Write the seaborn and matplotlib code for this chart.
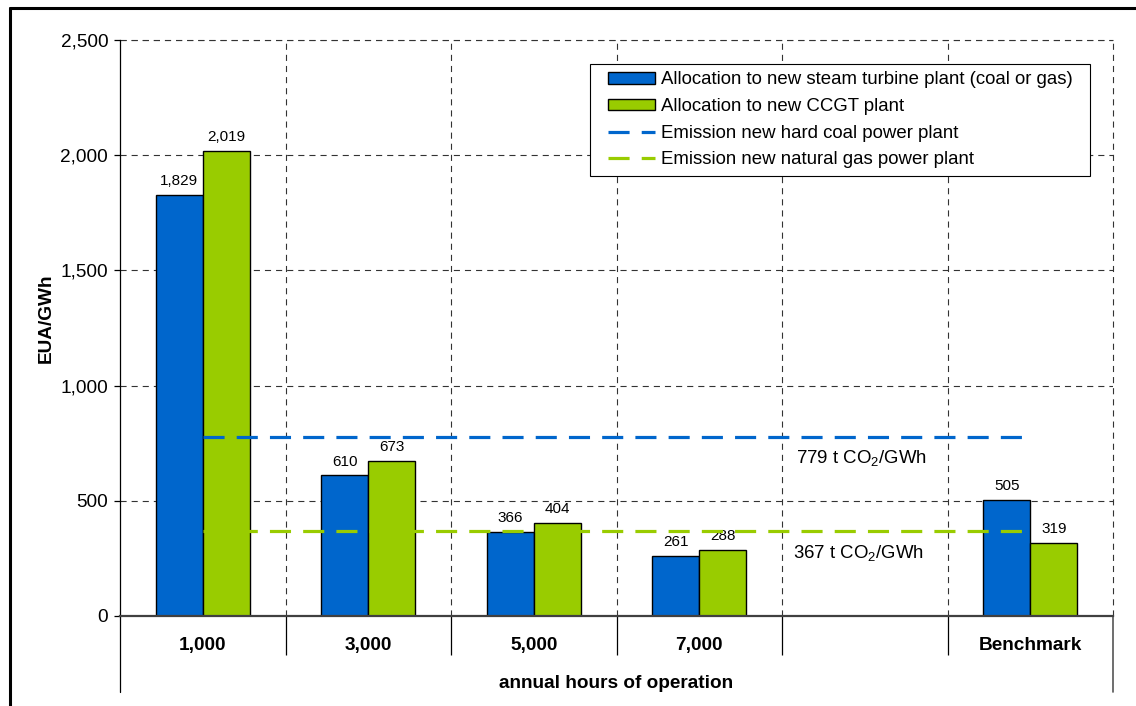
import matplotlib
matplotlib.use("Agg")
import matplotlib.pyplot as plt
import seaborn as sns
import pandas as pd
from matplotlib.patches import Patch
from matplotlib.lines import Line2D
from matplotlib.ticker import FuncFormatter, FixedLocator
from matplotlib.legend_handler import HandlerPatch, HandlerLine2D

categories = ["1,000", "3,000", "5,000", "7,000", " ", "Benchmark"]
bar_categories = ["1,000", "3,000", "5,000", "7,000", "Benchmark"]
steam_values = [1829, 610, 366, 261, 505]
ccgt_values = [2019, 673, 404, 288, 319]
series_names = ["Allocation to new steam turbine plant (coal or gas)",
                "Allocation to new CCGT plant"]
line_names = ["Emission new hard coal power plant",
              "Emission new natural gas power plant"]
coal_emission = 779
gas_emission = 367
coal_text = "779 t CO$_\\mathregular{2}$/GWh"
gas_text = "367 t CO$_\\mathregular{2}$/GWh"
yticks = [0, 500, 1000, 1500, 2000, 2500]

BLUE = "#0066CC"
GREEN = "#99CC00"

sns.set_theme(style="white")
plt.rcParams["font.family"] = ["Liberation Sans", "DejaVu Sans"]
plt.rcParams["mathtext.fontset"] = "custom"
plt.rcParams["mathtext.rm"] = "Liberation Sans"
plt.rcParams["mathtext.it"] = "Liberation Sans:italic"
plt.rcParams["mathtext.bf"] = "Liberation Sans:bold"
for k in ["text.color", "axes.labelcolor", "xtick.color", "ytick.color"]:
    plt.rcParams[k] = "black"

df = pd.DataFrame({
    "cat": bar_categories * 2,
    "val": steam_values + ccgt_values,
    "series": [series_names[0]] * len(bar_categories) + [series_names[1]] * len(bar_categories),
})

fig = plt.figure(figsize=(11.36, 7.06), dpi=100)
ax = fig.add_axes([120 / 1136, 1 - 616 / 706, (1113 - 120) / 1136, (616 - 40) / 706])

sns.barplot(data=df, x="cat", y="val", hue="series", order=categories,
            hue_order=series_names, palette=[BLUE, GREEN], saturation=1, width=0.57,
            edgecolor="black", linewidth=1.0, ax=ax, legend=False, zorder=3)

for cont in ax.containers:
    ax.bar_label(cont, fmt="{:,.0f}", padding=5, fontsize=11, color="black")

ax.set_xlim(-0.5, 5.5)
ax.set_ylim(0, 2500)
ax.set_yticks(yticks)
ax.yaxis.set_major_formatter(FuncFormatter(lambda v, p: f"{v:,.0f}"))

# emission lines
ax.plot([0, 5], [coal_emission, coal_emission], color=BLUE, lw=2.3,
        linestyle=(0, (6.6, 3.8)), zorder=4)
ax.plot([0, 5], [gas_emission, gas_emission], color=GREEN, lw=2.3,
        linestyle=(0, (6.6, 3.8)), zorder=4)
ax.text(3.585, 686, coal_text, fontsize=13.4, va="center", ha="left")
ax.text(3.565, 273, gas_text, fontsize=13.4, va="center", ha="left")

# grid
ax.grid(False)
ax.yaxis.grid(True, color="#333333", lw=0.8, linestyle=(0, (5.5, 4.5)), zorder=0)
ax.xaxis.set_minor_locator(FixedLocator([0.5, 1.5, 2.5, 3.5, 4.5]))
ax.xaxis.grid(True, which="minor", color="#333333", lw=0.8, linestyle=(0, (5.5, 4.5)), zorder=0)
ax.set_axisbelow(True)

for s in ["top", "right"]:
    ax.spines[s].set_visible(False)
ax.spines["left"].set_color("black")
ax.spines["left"].set_linewidth(0.9)
ax.spines["bottom"].set_color("#404040")
ax.spines["bottom"].set_linewidth(1.6)
ax.spines["bottom"].set_zorder(5)

# right dashed edge and top dashed edge
ax.axvline(5.5, color="#333333", lw=0.8, linestyle=(0, (5.5, 4.5)), clip_on=False)
ax.axhline(2500, color="#333333", lw=0.8, linestyle=(0, (5.5, 4.5)), clip_on=False)

# extensions below axis
ext = -(692 - 616) / 576
ax.plot([0, 0], [0, ext], transform=ax.transAxes, color="black", lw=0.9, clip_on=False)
ax.plot([1, 1], [0, ext], transform=ax.transAxes, color="#555555", lw=1.2, clip_on=False)

ax.tick_params(axis="x", which="minor", length=28, width=0.9, color="black",
               direction="out", bottom=True)
ax.tick_params(axis="x", which="major", length=0, pad=15, labelsize=13.7)
ax.tick_params(axis="y", which="major", length=4.5, width=0.9, color="black",
               direction="out", left=True, labelsize=13.7, pad=4)
for lbl in ax.get_xticklabels():
    lbl.set_fontweight("bold")

ax.set_xlabel("annual hours of operation", fontsize=13.7, fontweight="bold")
ax.xaxis.set_label_coords(0.5, -(683 - 616) / 576)
ax.xaxis.label.set_va("center")
ax.set_ylabel("EUA/GWh", fontsize=13.7, fontweight="bold")
ax.yaxis.set_label_coords(-0.0745, 0.517)
ax.yaxis.label.set_va("center")

handles = [Patch(facecolor=BLUE, edgecolor="black", lw=1.0),
           Patch(facecolor=GREEN, edgecolor="black", lw=1.0),
           Line2D([], [], color=BLUE, lw=2.3, linestyle=(0, (6.6, 3.8))),
           Line2D([], [], color=GREEN, lw=2.3, linestyle=(0, (6.6, 3.8)))]
labels = [series_names[0] + "  ", series_names[1]] + line_names
hmap = {Patch: HandlerPatch(xpad=0.55), Line2D: HandlerLine2D(xpad=0.55)}
leg = ax.legend(handles, labels, loc="upper right",
                bbox_to_anchor=((1090 - 120) / 993, 1 - (64 - 40) / 576),
                borderaxespad=0, fontsize=13.4, frameon=True, fancybox=False,
                framealpha=1, edgecolor="black", handlelength=3.08,
                handleheight=0.6, handletextpad=0.3, labelspacing=0.52,
                borderpad=0.4, handler_map=hmap)
leg.get_frame().set_linewidth(0.8)
leg.set_zorder(10)

# figure frame (top and left edges)
fig.add_artist(Line2D([10 / 1136, 10 / 1136], [0, 1 - 8 / 706], transform=fig.transFigure,
                      color="black", lw=2.2))
fig.add_artist(Line2D([10 / 1136, 1], [1 - 8 / 706, 1 - 8 / 706], transform=fig.transFigure,
                      color="black", lw=2.2))

fig.savefig("out.png", dpi=100)
